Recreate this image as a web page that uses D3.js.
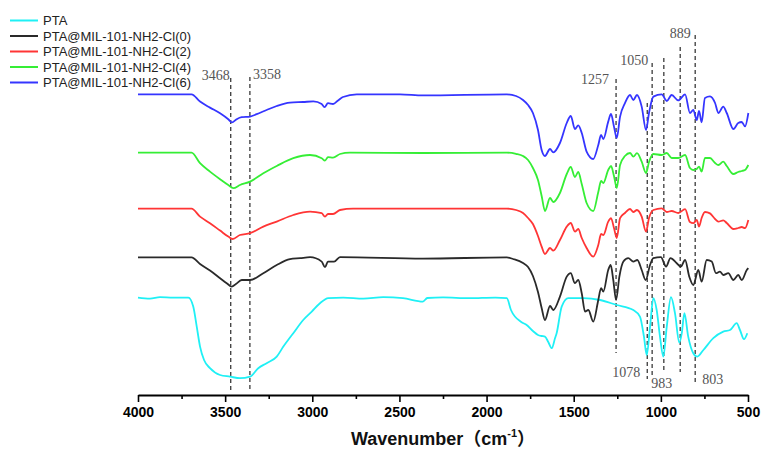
<!DOCTYPE html>
<html>
<head>
<meta charset="utf-8">
<script src="https://cdn.jsdelivr.net/npm/d3@7"></script>
<style>
  body { margin: 0; background: #fff; }
  svg { display: block; }
</style>
</head>
<body>
<svg id="chart" width="763" height="452"></svg>
<script>
// spectra: [wavenumber, transmittance (a.u., stacked)]
const ptaData = [[4000,48.7],[3931,48.2],[3874,48.9],[3799,48.7],[3711,48.7],[3683,44.2],[3663,34.2],[3644,24.2],[3621,17.5],[3587,13.4],[3529,10],[3472,9.2],[3415,8.4],[3357,9.2],[3310,13.4],[3262,15.9],[3204,19.2],[3166,24.2],[3109,30.9],[3052,37.5],[3003,41.7],[2956,45.9],[2908,48.4],[2822,48.7],[2707,48.2],[2593,48.9],[2480,48.4],[2365,46.7],[2340,48.5],[2250,48.8],[2100,48.4],[1950,48.7],[1884,48.4],[1860,42.5],[1801,36.5],[1770,35],[1734,32],[1705,30],[1684,29.5],[1665,29.2],[1646,26.5],[1626,23.4],[1607,28.5],[1598,30.9],[1569,44.2],[1531,48.4],[1445,48.4],[1349,47.5],[1253,45],[1158,42.5],[1120,39.2],[1097,29.2],[1081,20],[1062,34.2],[1043,48.4],[1024,42.5],[1005,29.2],[986,19.2],[966,34.2],[942,48.9],[919,40.9],[894,26.2],[880,30.9],[865,40.9],[843,29.2],[814,20.9],[791,19.2],[756,22.5],[699,28.4],[642,31.7],[603,32.5],[565,35.9],[546,32.5],[523,27.9],[504,30.9]]

const cl0Data = [[4000,68.8],[3693,68.8],[3644,65.5],[3587,62.2],[3529,58.4],[3491,55.9],[3462,54.2],[3438,55.5],[3405,57.5],[3357,57.5],[3281,60.9],[3204,65],[3128,67.9],[3070,68.4],[3013,68.9],[2946,66.7],[2927,63.9],[2910,66.7],[2875,66.7],[2841,68.9],[2365,68.2],[1884,68.8],[1848,68],[1791,66],[1762,64],[1734,59.5],[1705,51.5],[1684,43.5],[1665,37.5],[1636,44.5],[1617,42.5],[1579,49.2],[1540,59.2],[1517,60.9],[1493,55.9],[1474,57.5],[1454,50.9],[1435,41.7],[1416,42.5],[1388,36.7],[1359,47.5],[1343,53.4],[1330,51.7],[1302,62.5],[1288,65],[1273,57.5],[1257,47.5],[1238,59.2],[1215,66.7],[1187,68.4],[1158,66.7],[1135,67.5],[1110,62.5],[1087,57.5],[1062,65],[1043,68.4],[1000,68.9],[970,64.2],[945,68.4],[909,65.9],[886,64.2],[861,67.5],[837,59.2],[814,55],[785,62.5],[766,56.7],[737,67.5],[708,66.7],[684,60.9],[661,61.7],[642,60],[613,60.9],[584,57.5],[556,60],[536,57.5],[507,62.5],[498,63.4]]

const cl2Data = [[4000,93.2],[3693,93.2],[3644,89.2],[3587,85.9],[3529,82.2],[3482,79.2],[3457,78],[3415,80],[3357,80.9],[3281,84.2],[3204,86.7],[3109,90],[3013,91.7],[2946,90.9],[2927,89.2],[2910,90.5],[2881,90.5],[2841,92.5],[2766,93.2],[1884,93.2],[1831,92.5],[1791,91],[1762,88.5],[1734,85.5],[1705,79.5],[1684,74.2],[1665,70.5],[1636,73.5],[1617,72.2],[1579,77.5],[1540,84.2],[1517,86],[1493,81.7],[1474,83],[1454,78.5],[1426,73.5],[1388,69.2],[1359,75],[1343,80.5],[1330,80],[1302,86.7],[1286,88.4],[1269,83.5],[1253,78.5],[1234,88.4],[1206,91],[1177,93],[1158,91.5],[1137,92.5],[1110,89.2],[1085,81.7],[1068,88.5],[1043,92.5],[995,93.3],[966,91.5],[938,92],[900,91],[861,92.9],[833,86.5],[814,85.9],[794,87.5],[781,84.2],[766,88.5],[747,91.5],[718,90.8],[689,88],[670,86.7],[642,87.3],[622,86],[584,83],[556,83.5],[536,84],[517,83.4],[498,87.5]]

const cl4Data = [[4000,121.2],[3693,121.2],[3644,115.9],[3587,111.7],[3529,107.9],[3482,105],[3453,103.4],[3415,105],[3357,106.7],[3281,110.9],[3204,114.5],[3109,118.4],[3013,120],[2946,118.4],[2927,117.2],[2910,118.9],[2881,118.7],[2841,120.5],[2784,121.2],[2365,121],[1884,121.2],[1831,120.6],[1791,119.5],[1762,117.5],[1734,113.5],[1705,107.5],[1684,99.5],[1665,92],[1636,98.5],[1617,96.5],[1579,101],[1540,110.5],[1517,114],[1493,109],[1474,111.5],[1454,105.5],[1426,96],[1388,92],[1359,101.5],[1343,107],[1330,106],[1302,112.5],[1286,114.5],[1269,109.5],[1253,103.5],[1234,115],[1206,119.5],[1177,121],[1158,119.2],[1137,120.9],[1110,116.7],[1085,111],[1068,116.5],[1043,120.5],[995,120],[966,121],[938,118.5],[900,118.5],[861,120],[833,113.5],[814,112.5],[794,113],[781,114.2],[766,111.7],[747,118.5],[718,118.5],[689,116],[670,115],[642,116.7],[622,114.5],[584,110.5],[556,111.5],[536,112],[517,112.5],[498,115]]

const cl6Data = [[4000,150.3],[3693,150.3],[3644,146.7],[3587,143.7],[3529,140.9],[3482,137.9],[3461,136.3],[3434,137.9],[3405,138.9],[3357,139.2],[3319,140.4],[3262,142.5],[3204,144.5],[3128,146.2],[3052,146.5],[2994,146.8],[2946,145.5],[2930,143.9],[2910,145.9],[2881,145.5],[2852,147.3],[2824,149],[2745,150.3],[2497,150.3],[2365,149.8],[1884,150.3],[1831,149.5],[1791,147.5],[1762,145],[1734,141],[1705,132.5],[1684,122.5],[1665,119.5],[1636,123],[1617,121.3],[1579,126],[1540,136],[1517,139.5],[1493,133],[1474,134.8],[1454,131],[1426,121.7],[1388,118],[1359,125],[1343,130],[1330,128],[1302,136.7],[1286,140.5],[1269,134.2],[1253,128.5],[1234,139.2],[1206,145.9],[1177,150],[1158,147.5],[1137,150],[1110,144.2],[1085,132.5],[1068,141],[1043,149.2],[995,150.3],[966,147],[938,150],[900,147.3],[861,150.3],[833,141],[814,142.5],[794,137.5],[781,142],[766,136.3],[747,148.5],[718,149.3],[689,146],[670,141],[642,144.2],[622,141],[584,133],[556,136],[536,136.5],[517,134.3],[498,141]]

const seriesNames = ['PTA', 'PTA@MIL-101-NH2-Cl(0)', 'PTA@MIL-101-NH2-Cl(2)', 'PTA@MIL-101-NH2-Cl(4)', 'PTA@MIL-101-NH2-Cl(6)']
const seriesData = [ptaData, cl0Data, cl2Data, cl4Data, cl6Data]
const seriesColors = ['#1ff0f5', '#2a2a2a', '#ff3535', '#35ee35', '#3535ff']

// marked peaks (cm-1)
const peaks = [3468, 3358, 1257, 1078, 1050, 983, 889, 803]
const xTicks = [4000, 3500, 3000, 2500, 2000, 1500, 1000, 500]

// dashed guide layout: top / bottom / label baseline in y units
const peakLayout = [
  {top: 158.5, bottom: 2.5, labelY: 157.5, anchor: 'end', dx: -1},
  {top: 159, bottom: 2.5, labelY: 158, anchor: 'start', dx: 3},
  {top: 158, bottom: 21, labelY: 155.5, anchor: 'end', dx: -7},
  {top: 146, bottom: 8, labelY: 9, anchor: 'end', dx: -7},
  {top: 166, bottom: 10, labelY: 165, anchor: 'end', dx: -4},
  {top: 168.5, bottom: 11.5, labelY: 3.5, anchor: 'middle', dx: -2},
  {top: 174, bottom: 11.5, labelY: 178.5, anchor: 'middle', dx: 0},
  {top: 180, bottom: 6, labelY: 5.5, anchor: 'start', dx: 7}
]

const svg = d3.select('#chart')
const axisY = 395

const xscale = d3.scaleLinear()
  .domain([4000, 500])
  .range([138, 748])
const yscale = d3.scaleLinear()
  .domain([0, 175])
  .range([axisY, 45])

// dashed peak lines
const guides = svg.append('g')
guides.selectAll('line')
  .data(peaks)
  .enter()
  .append('line')
  .attr('x1', d => xscale(d))
  .attr('x2', d => xscale(d))
  .attr('y1', (d, i) => yscale(peakLayout[i].top))
  .attr('y2', (d, i) => yscale(peakLayout[i].bottom))
  .attr('stroke', '#3a3a3a')
  .attr('stroke-width', 1.3)
  .attr('stroke-dasharray', '4,3')

guides.selectAll('text')
  .data(peaks)
  .enter()
  .append('text')
  .attr('x', (d, i) => xscale(d) + peakLayout[i].dx)
  .attr('y', (d, i) => yscale(peakLayout[i].labelY))
  .attr('text-anchor', (d, i) => peakLayout[i].anchor)
  .attr('font-family', '"Liberation Serif", "DejaVu Serif", serif')
  .attr('font-size', 14)
  .attr('fill', '#555')
  .text(d => d)

// spectra
const line = d3.line()
  .x(d => xscale(d[0]))
  .y(d => yscale(d[1]))
  .curve(d3.curveMonotoneX)

svg.append('g')
  .selectAll('path')
  .data(seriesData)
  .enter()
  .append('path')
  .attr('d', d => line(d))
  .attr('fill', 'none')
  .attr('stroke', (d, i) => seriesColors[i])
  .attr('stroke-width', 1.8)
  .attr('stroke-linejoin', 'round')

// x axis
const minorAxis = d3.axisBottom(xscale)
  .tickValues(d3.range(750, 4000, 500))
  .tickSize(4)
  .tickSizeOuter(0)
  .tickFormat('')
svg.append('g')
  .attr('transform', `translate(0, ${axisY})`)
  .call(minorAxis)
  .call(g => g.select('.domain').remove())
  .call(g => g.selectAll('line').attr('stroke', '#000').attr('stroke-width', 1.6))

const bottomAxis = d3.axisBottom(xscale)
  .tickValues(xTicks)
  .tickSize(7)
  .tickSizeOuter(0)
  .tickPadding(5)
  .tickFormat(d3.format('d'))
svg.append('g')
  .attr('transform', `translate(0, ${axisY})`)
  .call(bottomAxis)
  .call(g => g.select('.domain').attr('stroke', '#000').attr('stroke-width', 2))
  .call(g => g.selectAll('line').attr('stroke', '#000').attr('stroke-width', 1.6))
  .call(g => g.selectAll('text')
    .attr('font-family', '"Liberation Sans", Arial, sans-serif')
    .attr('font-weight', 'bold')
    .attr('font-size', 14)
    .attr('fill', '#000'))

// axis title
const title = svg.append('text')
  .attr('x', 443)
  .attr('y', 445)
  .attr('text-anchor', 'middle')
  .attr('font-family', '"Liberation Sans", Arial, "Noto Sans CJK SC", sans-serif')
  .attr('font-weight', 'bold')
  .attr('font-size', 18)
  .attr('fill', '#111')
title.append('tspan').text('Wavenumber（cm')
title.append('tspan').attr('font-size', 11).attr('dy', -8).text('-1')
title.append('tspan').attr('dy', 8).text('）')

// legend
const legend = svg.append('g')
const legendRows = legend.selectAll('g')
  .data(seriesNames)
  .enter()
  .append('g')
  .attr('transform', (d, i) => `translate(10, ${20.5 + i * 15.5})`)
legendRows.append('line')
  .attr('x1', 0)
  .attr('x2', 28)
  .attr('stroke', (d, i) => seriesColors[i])
  .attr('stroke-width', 2)
legendRows.append('text')
  .attr('x', 33)
  .attr('dy', '0.36em')
  .attr('font-family', '"Liberation Sans", Arial, sans-serif')
  .attr('font-size', 13)
  .attr('fill', '#222')
  .text(d => d)
</script>
</body>
</html>
